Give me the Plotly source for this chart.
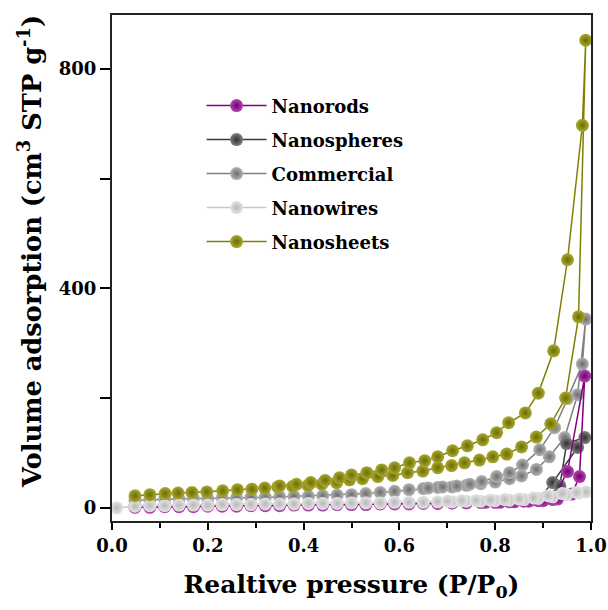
import plotly.graph_objects as go

# ---------------- data ----------------
names = ["Nanorods", "Nanospheres", "Commercial", "Nanowires", "Nanosheets"]

# Nanosheets
sheets_ads_p = [0.048, 0.079, 0.111, 0.138, 0.167, 0.198, 0.231, 0.262, 0.292, 0.319, 0.346, 0.377,
                0.409, 0.438, 0.469, 0.496, 0.523, 0.555, 0.586, 0.617, 0.649, 0.680, 0.709, 0.736,
                0.767, 0.795, 0.824, 0.855, 0.886, 0.916, 0.947, 0.974, 0.989]
sheets_ads_v = [22, 24, 26, 27, 28, 29, 31, 33, 34, 36, 38, 39, 41, 43, 46, 51, 53, 57, 59, 64, 67, 73,
                77, 82, 87, 93, 98, 111, 129, 153, 200, 348, 852]
sheets_des_p = [0.982, 0.951, 0.922, 0.890, 0.863, 0.828, 0.803, 0.774, 0.742, 0.711, 0.680, 0.653,
                0.621, 0.590, 0.563, 0.532, 0.500, 0.475, 0.445, 0.415, 0.385, 0.350]
sheets_des_v = [697, 452, 286, 209, 173, 155, 137, 124, 113, 104, 93, 86, 82, 73, 69, 64, 60, 55, 50,
                46, 43, 40]

# Commercial
comm_ads_p = [0.048, 0.079, 0.110, 0.140, 0.170, 0.200, 0.230, 0.260, 0.290, 0.320, 0.350, 0.380,
              0.410, 0.440, 0.470, 0.500, 0.530, 0.560, 0.590, 0.620, 0.650, 0.680, 0.710, 0.740,
              0.770, 0.800, 0.830, 0.855, 0.886, 0.913, 0.945, 0.972, 0.989]
comm_ads_v = [14, 15, 16, 16, 17, 17, 18, 18, 19, 19, 20, 21, 21, 22, 23, 24, 26, 28, 30, 33, 35, 37,
              38, 41, 44, 47, 53, 58, 70, 93, 128, 206, 344]
comm_des_p = [0.982, 0.951, 0.924, 0.893, 0.857, 0.830, 0.803, 0.772, 0.747, 0.720, 0.690, 0.660]
comm_des_v = [262, 199, 146, 106, 78, 64, 57, 48, 43, 40, 38, 36]

# Nanowires
wires_ads_p = [0.010, 0.048, 0.079, 0.110, 0.140, 0.170, 0.200, 0.230, 0.260, 0.290, 0.320, 0.350,
               0.380, 0.410, 0.440, 0.470, 0.500, 0.530, 0.560, 0.590, 0.620, 0.650, 0.680, 0.710,
               0.740, 0.770, 0.800, 0.830, 0.860, 0.890, 0.920, 0.950, 0.975, 0.990]
wires_ads_v = [0, 3, 4, 4, 5, 5, 5, 6, 6, 6, 7, 7, 7, 8, 8, 8, 9, 9, 9, 10, 10, 10, 11, 11, 12, 12,
               13, 14, 15, 17, 20, 24, 27, 29]
wires_des_p = [0.970, 0.940, 0.910, 0.880, 0.850, 0.820, 0.790, 0.760, 0.730, 0.700]
wires_des_v = [28, 26, 22, 18, 16, 15, 14, 13, 13, 12]

# Nanorods
rods_ads_p = [0.048, 0.079, 0.110, 0.140, 0.170, 0.200, 0.230, 0.260, 0.290, 0.320, 0.350, 0.380,
              0.410, 0.440, 0.470, 0.500, 0.530, 0.560, 0.590, 0.620, 0.650, 0.680, 0.710, 0.740,
              0.770, 0.800, 0.830, 0.860, 0.890, 0.920, 0.951, 0.987]
rods_ads_v = [1, 1, 2, 2, 2, 3, 3, 3, 4, 4, 4, 5, 5, 5, 6, 6, 6, 7, 7, 7, 8, 8, 9, 9, 10, 10, 11, 12,
              13, 15, 66, 240]
rods_des_p = [0.976, 0.960, 0.930, 0.900, 0.870, 0.840, 0.810, 0.780]
rods_des_v = [57, 25, 16, 13, 12, 11, 10, 10]

# Nanospheres
sph_ads_p = [0.048, 0.079, 0.110, 0.140, 0.170, 0.200, 0.230, 0.260, 0.290, 0.320, 0.350, 0.380,
             0.410, 0.440, 0.470, 0.500, 0.530, 0.560, 0.590, 0.620, 0.650, 0.680, 0.710, 0.740,
             0.770, 0.800, 0.830, 0.860, 0.890, 0.920, 0.972, 0.987]
sph_ads_v = [3, 3, 4, 4, 4, 5, 5, 5, 5, 6, 6, 6, 6, 7, 7, 7, 7, 8, 8, 8, 9, 9, 9, 10, 10, 11, 12, 13,
             16, 46, 110, 128]
sph_des_p = [0.949, 0.935, 0.905, 0.875]
sph_des_v = [117, 40, 18, 14]

x_ticks = [0.0, 0.2, 0.4, 0.6, 0.8, 1.0]
x_tick_text = ["0.0", "0.2", "0.4", "0.6", "0.8", "1.0"]
y_ticks = [0, 400, 800]
y_tick_text = ["0", "400", "800"]

x_title = "Realtive pressure (P/P<sub>0</sub>)"
y_title = "Volume adsorption (cm<sup>3</sup> STP g<sup>-1</sup>)"

# ---------------- figure ----------------
FONT = "DejaVu Serif"

series = {
    "Commercial": (comm_ads_p, comm_ads_v, comm_des_p, comm_des_v, "#6c6c6c", "#b4b4b4", 3),
    "Nanospheres": (sph_ads_p, sph_ads_v, sph_des_p, sph_des_v, "#303030", "#808080", 2),
    "Nanorods": (rods_ads_p, rods_ads_v, rods_des_p, rods_des_v, "#6e006e", "#b445b4", 1),
    "Nanowires": (wires_ads_p, wires_ads_v, wires_des_p, wires_des_v, "#b8b8b8", "#e4e4e4", 4),
    "Nanosheets": (sheets_ads_p, sheets_ads_v, sheets_des_p, sheets_des_v, "#6c6c00", "#a8a832", 5),
}
line_colors = {"Commercial": "#808080", "Nanospheres": "#3a3a3a", "Nanorods": "#800080",
               "Nanowires": "#c8c8c8", "Nanosheets": "#808000"}

fig = go.Figure()
for name in ["Commercial", "Nanospheres", "Nanorods", "Nanowires", "Nanosheets"]:
    ap, av, dp, dv, edge, center, rank = series[name]
    fig.add_trace(go.Scatter(
        x=list(ap) + list(dp), y=list(av) + list(dv),
        mode="lines+markers", name=name, legendrank=rank, legendgroup=name,
        line=dict(color=line_colors[name], width=1.5),
        marker=dict(size=13, color=center, line=dict(width=0),
                    gradient=dict(type="radial", color=edge)),
        cliponaxis=False,
    ))

fig.update_layout(
    width=608, height=610,
    margin=dict(l=112, r=17, t=15, b=89, autoexpand=False),
    paper_bgcolor="white", plot_bgcolor="white",
    font=dict(family=FONT, color="black"),
    showlegend=True,
    legend=dict(x=0.187, y=0.857, xanchor="left", yanchor="top", itemwidth=60,
                bgcolor="rgba(0,0,0,0)", traceorder="grouped", tracegroupgap=7.6,
                font=dict(family=FONT, size=18, color="black", weight="bold")),
    annotations=[dict(text=y_title, textangle=-90, xref="paper", yref="paper",
                      x=-0.171, y=0.532, xanchor="center", yanchor="middle", showarrow=False,
                      font=dict(family=FONT, size=25.7, weight="bold", color="black"))],
)
fig.update_xaxes(
    range=[0, 1], tickvals=x_ticks, ticktext=x_tick_text, automargin=False,
    ticks="outside", ticklen=7, tickwidth=1.5, tickcolor="black",
    minor=dict(dtick=0.1, ticks="outside", ticklen=5, tickwidth=1.5, tickcolor="black"),
    showline=True, linecolor="#222222", linewidth=2, mirror=True,
    showgrid=False, zeroline=False,
    tickfont=dict(family=FONT, size=18, weight="bold"),
    title=dict(text=x_title, standoff=21,
               font=dict(family=FONT, size=25, weight="bold")),
)
fig.update_yaxes(
    range=[-24, 898], tickvals=y_ticks, ticktext=y_tick_text, automargin=False,
    ticks="outside", ticklen=10, tickwidth=1.5, tickcolor="black",
    minor=dict(tickvals=[200, 600], ticks="outside", ticklen=10, tickwidth=1.5, tickcolor="black"),
    showline=True, linecolor="#222222", linewidth=2, mirror=True,
    showgrid=False, zeroline=False,
    tickfont=dict(family=FONT, size=18, weight="bold"),
)

# remove the default 8px page margin so the 608x610 figure fills the window exactly
fig.write_html("out.html", config={"displayModeBar": False},
               post_script="document.body.style.margin='0';document.body.style.overflow='hidden';")
